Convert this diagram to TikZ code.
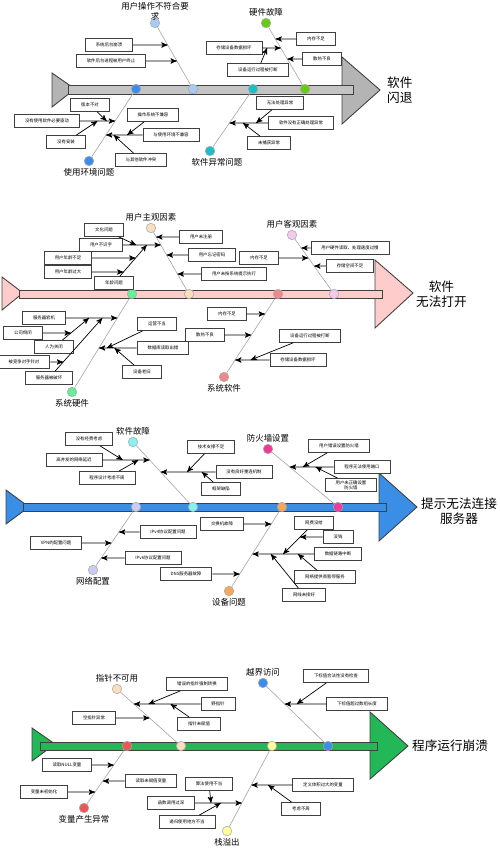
\documentclass[tikz,border=0pt]{standalone}
\usepackage{fontspec}
\setmainfont{Noto Sans CJK SC}
\usetikzlibrary{arrows,calc}

\definecolor{greyfish}{HTML}{C4C4C4}
\definecolor{greyhead}{HTML}{B4B4B4}
\definecolor{pinkfish}{HTML}{FFCCCC}
\definecolor{bluefish}{HTML}{3A8EE6}
\definecolor{greenfish}{HTML}{23B757}
\definecolor{envblue}{HTML}{3B8CEB}
\definecolor{skyblue}{HTML}{A8CBF5}
\definecolor{tealdot}{HTML}{1CBFC8}
\definecolor{limedot}{HTML}{66CC11}
\definecolor{peachdot}{HTML}{F9DEC0}
\definecolor{orchiddot}{HTML}{F5C8F0}
\definecolor{mintdot}{HTML}{66EE99}
\definecolor{salmondot}{HTML}{F08A8A}
\definecolor{cyandot}{HTML}{88F2F2}
\definecolor{magentadot}{HTML}{EE3A99}
\definecolor{lavenderdot}{HTML}{CCCCF2}
\definecolor{orangedot}{HTML}{F5A857}
\definecolor{reddot}{HTML}{EE5555}
\definecolor{yellowdot}{HTML}{FFFF99}

\begin{document}
\begin{tikzpicture}[x=0.02cm, y=-0.02cm, >=stealth',
    cause/.style={draw=black!75, fill=white, line width=0.45pt, inner xsep=0.21cm, inner ysep=0pt, minimum height=0.26cm, font=\fontsize{2.5}{3}\selectfont},
    dot/.style={circle, draw=black!35, line width=0.3pt, inner sep=0pt, minimum size=0.19cm},
    title/.style={font=\fontsize{4.8}{5.6}\selectfont, inner sep=1pt},
    head/.style={font=\fontsize{7.2}{8.6}\selectfont, align=center, anchor=west, inner sep=1pt},
    bone/.style={draw=black!35, line width=0.35pt},
    link/.style={->, line width=0.4pt},
    body/.style={draw=black!75, line width=0.5pt}]
    \useasboundingbox (0,0) rectangle (500,848);

    % Fish {软件闪退}
    \filldraw [body, fill=greyhead] (52,73) -- (52,107) -- (75,89) -- cycle;
    \filldraw [body, fill=greyhead] (342,57) -- (342,124) -- (380,90) -- cycle;
    \filldraw [body, fill=greyfish] (68,85) rectangle (353,94);
    \node [head] (aHead) at (385,90) {软件\\闪退};

    % Bones {aEnv, aOp, aSw, aHw}
    \node [dot, fill=envblue, label={[title]below:使用环境问题}]                    (aEnv)  at (89,161) {};
    \node [dot, fill=envblue]                                                       (aEnvJ) at (136,89) {};
    \node [dot, fill=skyblue, label={[title, align=center, yshift=-0.09cm]above:用户操作不符合要\\求}] (aOp) at (155,23) {};
    \node [dot, fill=skyblue]                                                       (aOpJ)  at (193,89) {};
    \node [dot, fill=tealdot, label={[title, xshift=0.14cm]below:软件异常问题}]      (aSw)   at (210,151) {};
    \node [dot, fill=tealdot]                                                       (aSwJ)  at (253,89) {};
    \node [dot, fill=limedot, label={[title]above:硬件故障}]                         (aHw)   at (266,23) {};
    \node [dot, fill=limedot]                                                       (aHwJ)  at (305,89) {};
    \path [bone] (aEnv) edge (aEnvJ)  (aOp) edge (aOpJ)  (aSw) edge (aSwJ)  (aHw) edge (aHwJ);

    % Causes
    \node [cause] (a1)  at (109,45)  {系统后台崩溃};
    \node [cause] (a2)  at (111,61)  {软件后台进程被用户终止};
    \node [cause] (a3)  at (234,48)  {存储设备数据损坏};
    \node [cause] (a4)  at (258,70)  {设备运行过程被打断};
    \node [cause] (a5)  at (316,39)  {内存不足};
    \node [cause] (a6)  at (322,59)  {散热不良};
    \node [cause] (a7)  at (90,105)  {版本不对};
    \node [cause] (a8)  at (47,121)  {没有使用软件必要驱动};
    \node [cause] (a9)  at (66,142)  {没有安装};
    \node [cause] (a10) at (153,115) {操作系统不兼容};
    \node [cause] (a11) at (171,135) {与使用环境不兼容};
    \node [cause] (a12) at (141,160) {与其他软件冲突};
    \node [cause] (a13) at (280,103) {无法处理异常};
    \node [cause] (a14) at (301,123) {软件没有正确处理异常};
    \node [cause] (a15) at (269,143) {未捕获异常};

    \coordinate (a1x)  at (intersection of aOp--aOpJ and a1.east--a1.west);
    \coordinate (a2x)  at (intersection of aOp--aOpJ and a2.east--a2.west);
    \coordinate (a3x)  at (intersection of aHw--aHwJ and a3.east--a3.west);
    \coordinate (a5x)  at (intersection of aHw--aHwJ and a5.east--a5.west);
    \coordinate (a6x)  at (intersection of aHw--aHwJ and a6.east--a6.west);
    \coordinate (a8x)  at (intersection of aEnv--aEnvJ and a8.east--a8.west);
    \coordinate (a11x) at (intersection of aEnv--aEnvJ and a11.east--a11.west);
    \coordinate (a14x) at (intersection of aSw--aSwJ and a14.east--a14.west);

    % Paths
    \path [link] (a1)  edge (a1x);
    \path [link] (a2)  edge (a2x);
    \path [link] (a3)  edge (a3x);
    \path [link] (a4)  edge ($(a3.east)!0.25!(a3x)$);
    \path [link] (a5)  edge (a5x);
    \path [link] (a6)  edge (a6x);
    \path [link] (a8)  edge (a8x);
    \path [link] (a7)  edge ($(a8.east)!0.76!(a8x)$);
    \path [link] (a9)  edge ($(a8.east)!0.5!(a8x)$);
    \path [link] (a11) edge (a11x);
    \path [link] (a10) edge ($(a11.west)!0.42!(a11x)$);
    \path [link] (a12) edge ($(a11.west)!0.79!(a11x)$);
    \path [link] (a14) edge (a14x);
    \path [link] (a13) edge ($(a14.west)!0.31!(a14x)$);
    \path [link] (a15) edge ($(a14.west)!0.65!(a14x)$);

    % Fish {软件无法打开}
    \filldraw [body, fill=pinkfish] (2,277) -- (2,310) -- (23,293) -- cycle;
    \filldraw [body, fill=pinkfish] (375,260) -- (375,328) -- (413,293) -- cycle;
    \filldraw [body, fill=pinkfish] (19,290) rectangle (382,298);
    \node [head] (bHead) at (414,294) {软件\\无法打开};

    % Bones {bSubj, bObj, bHw, bSw}
    \node [dot, fill=peachdot, label={[title]above:用户主观因素}]   (bSubj)  at (151,228) {};
    \node [dot, fill=peachdot]                                     (bSubjJ) at (189,294) {};
    \node [dot, fill=orchiddot, label={[title]above:用户客观因素}]  (bObj)   at (292,235) {};
    \node [dot, fill=orchiddot]                                    (bObjJ)  at (334,294) {};
    \node [dot, fill=mintdot, label={[title]below:系统硬件}]        (bHw)    at (72,392)  {};
    \node [dot, fill=mintdot]                                      (bHwJ)   at (132,294) {};
    \node [dot, fill=salmondot, label={[title]below:系统软件}]      (bSw)    at (224,377) {};
    \node [dot, fill=salmondot]                                    (bSwJ)   at (278,294) {};
    \path [bone] (bSubj) edge (bSubjJ)  (bObj) edge (bObjJ)  (bHw) edge (bHwJ)  (bSw) edge (bSwJ);

    % Causes
    \node [cause] (b1)  at (201,237) {用户未注册};
    \node [cause] (b2)  at (212,255) {用户忘记密码};
    \node [cause] (b3)  at (234,274) {用户未按系统提示执行};
    \node [cause] (b4)  at (101,245) {用户不识字};
    \node [cause] (b5)  at (104,230) {文化问题};
    \node [cause] (b6)  at (68,258)  {用户年龄不足};
    \node [cause] (b7)  at (68,272)  {用户年龄过大};
    \node [cause] (b8)  at (114,283) {年龄问题};
    \node [cause] (b9)  at (350,248) {用户硬件读取、处理速度过慢};
    \node [cause] (b10) at (350,266) {存储空间不足};
    \node [cause] (b11) at (259,258) {内存不足};
    \node [cause] (b12) at (44,318)  {服务器宕机};
    \node [cause] (b13) at (23,333)  {公司倒闭};
    \node [cause] (b14) at (54,347)  {人为关闭};
    \node [cause] (b15) at (24,362)  {被竞争对手针对};
    \node [cause] (b16) at (49,378)  {服务器被破坏};
    \node [cause] (b17) at (157,324) {运营不当};
    \node [cause] (b18) at (163,348) {数据库读取出错};
    \node [cause] (b19) at (142,372) {设备老旧};
    \node [cause] (b20) at (227,314) {内存不足};
    \node [cause] (b21) at (205,335) {散热不良};
    \node [cause] (b22) at (310,336) {设备运行过程被打断};
    \node [cause] (b23) at (298,360) {存储设备数据损坏};

    \coordinate (b1x)  at (intersection of bSubj--bSubjJ and b1.east--b1.west);
    \coordinate (b2x)  at (intersection of bSubj--bSubjJ and b2.east--b2.west);
    \coordinate (b3x)  at (intersection of bSubj--bSubjJ and b3.east--b3.west);
    \coordinate (b4x)  at (intersection of bSubj--bSubjJ and b4.east--b4.west);
    \coordinate (b8x)  at ($(b4.east)!0.63!(b4x)$);
    \coordinate (b6x)  at (intersection of b8--b8x and b6.east--b6.west);
    \coordinate (b7x)  at (intersection of b8--b8x and b7.east--b7.west);
    \coordinate (b9x)  at (intersection of bObj--bObjJ and b9.east--b9.west);
    \coordinate (b10x) at (intersection of bObj--bObjJ and b10.east--b10.west);
    \coordinate (b11x) at (intersection of bObj--bObjJ and b11.east--b11.west);
    \coordinate (b12x) at (intersection of bHw--bHwJ and b12.east--b12.west);
    \coordinate (b14x) at ($(b12.east)!0.45!(b12x)$);
    \coordinate (b16x) at ($(b12.east)!0.71!(b12x)$);
    \coordinate (b13x) at (intersection of b14--b14x and b13.east--b13.west);
    \coordinate (b15x) at (intersection of b16--b16x and b15.east--b15.west);
    \coordinate (b18x) at (intersection of bHw--bHwJ and b18.east--b18.west);
    \coordinate (b20x) at (intersection of bSw--bSwJ and b20.east--b20.west);
    \coordinate (b21x) at (intersection of bSw--bSwJ and b21.east--b21.west);
    \coordinate (b23x) at (intersection of bSw--bSwJ and b23.east--b23.west);

    % Paths
    \path [link] (b1)  edge (b1x);
    \path [link] (b2)  edge (b2x);
    \path [link] (b3)  edge (b3x);
    \path [link] (b4)  edge (b4x);
    \path [link] (b5)  edge ($(b4.east)!0.35!(b4x)$);
    \path [link] (b8)  edge (b8x);
    \path [link] (b6)  edge (b6x);
    \path [link] (b7)  edge (b7x);
    \path [link] (b9)  edge (b9x);
    \path [link] (b10) edge (b10x);
    \path [link] (b11) edge (b11x);
    \path [link] (b12) edge (b12x);
    \path [link] (b14) edge (b14x);
    \path [link] (b16) edge (b16x);
    \path [link] (b13) edge (b13x);
    \path [link] (b15) edge (b15x);
    \path [link] (b18) edge (b18x);
    \path [link] (b17) edge ($(b18.west)!0.79!(b18x)$);
    \path [link] (b19) edge ($(b18.west)!0.59!(b18x)$);
    \path [link] (b20) edge (b20x);
    \path [link] (b21) edge (b21x);
    \path [link] (b23) edge (b23x);
    \path [link] (b22) edge ($(b23.west)!0.55!(b23x)$);

    % Fish {提示无法连接服务器}
    \filldraw [body, fill=bluefish] (6,490) -- (6,524) -- (29,507) -- cycle;
    \filldraw [body, fill=bluefish] (379,473) -- (379,541) -- (417,507) -- cycle;
    \filldraw [body, fill=bluefish] (23,503) rectangle (386,511);
    \node [head] (cHead) at (419,511) {提示无法连接\\服务器};

    % Bones {cSw, cFw, cNet, cDev}
    \node [dot, fill=cyandot, label={[title]above:软件故障}]       (cSw)   at (133,442) {};
    \node [dot, fill=cyandot]                                     (cSwJ)  at (193,507) {};
    \node [dot, fill=magentadot, label={[title]above:防火墙设置}]  (cFw)   at (268,449) {};
    \node [dot, fill=magentadot]                                  (cFwJ)  at (338,507) {};
    \node [dot, fill=lavenderdot, label={[title]below:网络配置}]   (cNet)  at (93,570)  {};
    \node [dot, fill=lavenderdot]                                 (cNetJ) at (136,507) {};
    \node [dot, fill=orangedot, label={[title]below:设备问题}]     (cDev)  at (229,591) {};
    \node [dot, fill=orangedot]                                   (cDevJ) at (282,507) {};
    \path [bone] (cSw) edge (cSwJ)  (cFw) edge (cFwJ)  (cNet) edge (cNetJ)  (cDev) edge (cDevJ);

    % Causes
    \node [cause] (c1)  at (89,439)  {没有经费考虑};
    \node [cause] (c2)  at (74,460)  {高并发的网络延迟};
    \node [cause] (c3)  at (107,478) {程序设计考虑不周};
    \node [cause] (c4)  at (211,447) {技术支撑不足};
    \node [cause] (c5)  at (244,472) {没有良好重连机制};
    \node [cause] (c6)  at (221,489) {框架缺陷};
    \node [cause] (c7)  at (339,446) {用户错误设置防火墙};
    \node [cause] (c8)  at (362,467) {程序无法使用端口};
    \node [cause, align=center] (c9) at (351,485) {用户未正确设置\\防火墙};
    \node [cause] (c10) at (222,524) {交换机故障};
    \node [cause] (c11) at (186,574) {DNS服务器故障};
    \node [cause] (c12) at (314,523) {网费没给};
    \node [cause] (c13) at (338,537) {没钱};
    \node [cause] (c14) at (338,554) {数据链路中断};
    \node [cause] (c15) at (325,577) {网络提供商暂停服务};
    \node [cause] (c16) at (304,595) {网线未接好};
    \node [cause] (c17) at (168,532) {IPv4协议配置问题};
    \node [cause] (c18) at (56,543)  {VPN的配置问题};
    \node [cause] (c19) at (153,558) {IPv6协议配置问题};

    \coordinate (c2x)  at (intersection of cSw--cSwJ and c2.east--c2.west);
    \coordinate (c5x)  at (intersection of cSw--cSwJ and c5.east--c5.west);
    \coordinate (c8x)  at (intersection of cFw--cFwJ and c8.east--c8.west);
    \coordinate (c10x) at (intersection of cDev--cDevJ and c10.east--c10.west);
    \coordinate (c11x) at (intersection of cDev--cDevJ and c11.east--c11.west);
    \coordinate (c14x) at (intersection of cDev--cDevJ and c14.east--c14.west);
    \coordinate (c12x) at ($(c14.west)!0.5!(c14x)$);
    \coordinate (c13x) at (intersection of c12--c12x and c13.east--c13.west);
    \coordinate (c17x) at (intersection of cNet--cNetJ and c17.east--c17.west);
    \coordinate (c18x) at (intersection of cNet--cNetJ and c18.east--c18.west);
    \coordinate (c19x) at (intersection of cNet--cNetJ and c19.east--c19.west);

    % Paths
    \path [link] (c2)  edge (c2x);
    \path [link] (c1)  edge ($(c2.east)!0.43!(c2x)$);
    \path [link] (c3)  edge ($(c2.east)!0.76!(c2x)$);
    \path [link] (c5)  edge (c5x);
    \path [link] (c4)  edge ($(c5.west)!0.52!(c5x)$);
    \path [link] (c6)  edge ($(c5.west)!0.25!(c5x)$);
    \path [link] (c8)  edge (c8x);
    \path [link] (c7)  edge ($(c8.west)!0.7!(c8x)$);
    \path [link] (c9)  edge ($(c8.west)!0.41!(c8x)$);
    \path [link] (c10) edge (c10x);
    \path [link] (c11) edge (c11x);
    \path [link] (c14) edge (c14x);
    \path [link] (c12) edge (c12x);
    \path [link] (c13) edge (c13x);
    \path [link] (c15) edge ($(c14.west)!0.26!(c14x)$);
    \path [link] (c16) edge ($(c14.west)!0.7!(c14x)$);
    \path [link] (c17) edge (c17x);
    \path [link] (c18) edge (c18x);
    \path [link] (c19) edge (c19x);

    % Fish {程序运行崩溃}
    \filldraw [body, fill=greenfish] (32,728) -- (32,761) -- (55,744) -- cycle;
    \filldraw [body, fill=greenfish] (370,712) -- (370,779) -- (408,746) -- cycle;
    \filldraw [body, fill=greenfish] (40,742) rectangle (377,750);
    \node [head] (dHead) at (410,746) {程序运行崩溃};

    % Bones {dPtr, dIdx, dVar, dStk}
    \node [dot, fill=peachdot, label={[title]above:指针不可用}]       (dPtr)  at (117,689) {};
    \node [dot, fill=peachdot]                                       (dPtrJ) at (181,746) {};
    \node [dot, fill=envblue, label={[title]above:越界访问}]          (dIdx)  at (263,683) {};
    \node [dot, fill=envblue]                                        (dIdxJ) at (328,746) {};
    \node [dot, fill=reddot, label={[title]below:变量产生异常}]       (dVar)  at (84,808)  {};
    \node [dot, fill=reddot]                                         (dVarJ) at (127,746) {};
    \node [dot, fill=yellowdot, label={[title]below:栈溢出}]          (dStk)  at (227,831) {};
    \node [dot, fill=yellowdot]                                      (dStkJ) at (272,746) {};
    \path [bone] (dPtr) edge (dPtrJ)  (dIdx) edge (dIdxJ)  (dVar) edge (dVarJ)  (dStk) edge (dStkJ);

    % Causes
    \node [cause] (d1)  at (197,684) {错误的指针强制转换};
    \node [cause] (d2)  at (218,704) {野指针};
    \node [cause] (d3)  at (199,724) {指针未赋值};
    \node [cause] (d4)  at (94,718)  {空指针异常};
    \node [cause] (d5)  at (336,676) {下标值合法性没有检查};
    \node [cause] (d6)  at (357,704) {下标值超过数组长度};
    \node [cause] (d7)  at (67,765)  {读取NULL变量};
    \node [cause] (d8)  at (44,792)  {变量未初始化};
    \node [cause] (d9)  at (151,781) {读取未赋值变量};
    \node [cause] (d10) at (209,784) {算法使用不当};
    \node [cause] (d11) at (171,803) {函数调用过深};
    \node [cause] (d12) at (187,822) {递归使用地方不当};
    \node [cause] (d13) at (323,785) {定义体积过大的变量};
    \node [cause] (d14) at (301,809) {考虑不周};

    \coordinate (d2x)  at (intersection of dPtr--dPtrJ and d2.east--d2.west);
    \coordinate (d4x)  at (intersection of dPtr--dPtrJ and d4.east--d4.west);
    \coordinate (d6x)  at (intersection of dIdx--dIdxJ and d6.east--d6.west);
    \coordinate (d7x)  at (intersection of dVar--dVarJ and d7.east--d7.west);
    \coordinate (d8x)  at (intersection of dVar--dVarJ and d8.east--d8.west);
    \coordinate (d9x)  at (intersection of dVar--dVarJ and d9.east--d9.west);
    \coordinate (d11x) at (intersection of dStk--dStkJ and d11.east--d11.west);
    \coordinate (d13x) at (intersection of dStk--dStkJ and d13.east--d13.west);

    % Paths
    \path [link] (d2)  edge (d2x);
    \path [link] (d1)  edge ($(d2.west)!0.78!(d2x)$);
    \path [link] (d3)  edge ($(d2.west)!0.45!(d2x)$);
    \path [link] (d4)  edge (d4x);
    \path [link] (d6)  edge (d6x);
    \path [link] (d5)  edge ($(d6.west)!0.71!(d6x)$);
    \path [link] (d7)  edge (d7x);
    \path [link] (d8)  edge (d8x);
    \path [link] (d9)  edge (d9x);
    \path [link] (d11) edge (d11x);
    \path [link] (d10) edge ($(d11.east)!0.34!(d11x)$);
    \path [link] (d12) edge ($(d11.east)!0.55!(d11x)$);
    \path [link] (d13) edge (d13x);
    \path [link] (d14) edge ($(d13.west)!0.59!(d13x)$);
\end{tikzpicture}
\end{document}
